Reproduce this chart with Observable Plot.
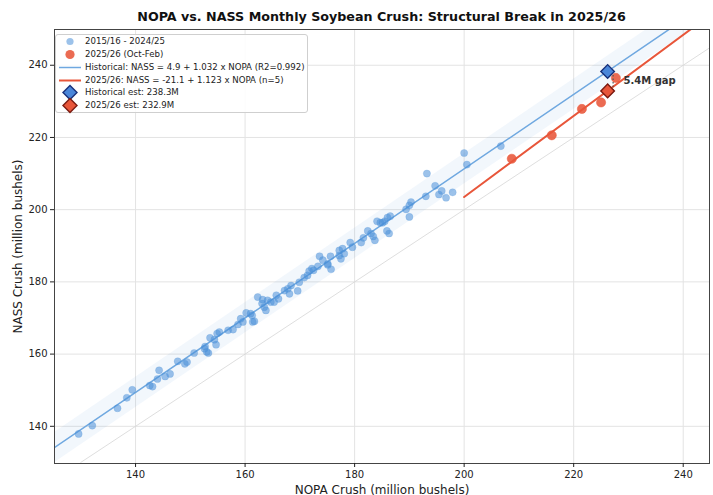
<!DOCTYPE html>
<html>
<head>
<meta charset="utf-8">
<script src="https://cdn.jsdelivr.net/npm/d3@7"></script>
<script src="https://cdn.jsdelivr.net/npm/@observablehq/plot@0.6"></script>
<style>
  html, body { margin: 0; padding: 0; background: #fff; }
  body { width: 713px; height: 495px; position: relative; overflow: hidden; font-family: "DejaVu Sans", sans-serif; }
  #title { position: absolute; left: 54px; width: 655px; top: 9px; text-align: center; font-weight: bold; font-size: 12.7px; color: #111; }
  #chart { position: absolute; left: 0; top: 24px; }
  #legend { position: absolute; left: 55px; top: 34px; width: 251px; height: 77px; border: 1px solid #cfcfcf; border-radius: 3px; background: rgba(255,255,255,0.85); font-size: 8.6px; color: #222; }
  .row { position: absolute; left: 0; height: 13px; line-height: 13px; white-space: nowrap; }
  .row svg { position: absolute; left: 2px; top: -2px; }
  .row span { position: absolute; left: 29px; }
</style>
</head>
<body>
<div id="title">NOPA vs. NASS Monthly Soybean Crush: Structural Break in 2025/26</div>
<div id="chart"></div>
<div id="legend"></div>
<script>
// Historical monthly points (2015/16 - 2024/25)
const histNOPA = [129.6,132.1,136.7,138.4,139.4,142.6,143.1,144.0,144.3,145.4,146.3,147.7,149.0,149.4,150.7,152.6,153.0,153.3,153.6,152.7,
  154.4,154.9,155.3,154.7,156.9,157.8,158.7,159.2,159.6,160.2,161.0,161.3,161.4,161.7,162.3,163.1,163.5,163.8,164.7,165.3,
  165.7,166.1,167.2,167.8,168.4,168.1,169.6,169.9,170.8,171.7,172.2,173.3,173.6,175.1,175.7,175.6,177.2,171.4,172.5,163.2,
  164.1,174.2,175.1,177.2,177.5,177.8,178.1,179.2,179.6,181.2,181.6,182.4,183.0,183.4,183.7,184.1,184.7,185.1,185.5,186.0,
  186.5,185.9,186.3,189.4,190.0,190.3,190.0,193.0,194.7,195.4,195.9,196.7,197.9,193.2,200.0,200.5,206.7];
const histNASS = [137.9,140.2,145.0,147.9,150.1,151.3,151.0,153.1,155.5,153.8,154.5,158.0,157.3,157.8,160.3,161.5,160.6,160.3,164.5,162.1,
  164.0,165.7,166.1,162.6,166.6,166.8,168.2,169.8,168.9,171.4,171.2,170.7,168.9,169.1,175.8,174.0,173.0,172.1,174.4,174.4,
  176.3,175.3,177.6,178.1,179.0,176.7,177.5,179.9,181.2,183.0,183.7,184.3,187.1,185.0,183.5,187.1,187.3,181.8,183.2,175.1,
  174.9,186.0,184.7,188.7,186.4,189.2,187.8,190.9,189.6,190.9,192.2,194.1,193.4,192.6,191.5,196.8,196.4,196.4,196.8,197.8,
  198.2,194.1,193.4,200.1,201.2,202.1,198.0,203.7,206.6,204.2,205.2,203.3,204.8,210.0,215.7,212.5,217.6];

// 2025/26 points (Oct-Feb)
const newNOPA = [208.7, 216.0, 221.5, 225.0, 227.7];
const newNASS = [214.1, 220.6, 227.9, 229.7, 236.5];

// Fits
const histFit = [4.9, 1.032];     // intercept, slope
const newFit = [-21.1, 1.123];
const bandHalf = 4.2;
const histRange = [125, 245];
const newRange = [200, 245];
const diagRange = [130, 250];

// Estimates
const estNOPA = 226.2;
const histEst = 238.3;
const newEst = 232.9;
const gapLabel = "5.4M gap";

const xTicks = [140, 160, 180, 200, 220, 240];
const yTicks = [140, 160, 180, 200, 220, 240];

const BLUE = "#4a90d9", LINEBLUE = "#6fa8e0", RED = "#e8563a";

const hist = histNOPA.map((x, i) => ({x, y: histNASS[i]}));
const recent = newNOPA.map((x, i) => ({x, y: newNASS[i]}));
const fitLine = (f, r) => r.map(x => ({x, y: f[0] + f[1] * x}));
const histLine = fitLine(histFit, histRange);
const newLine = fitLine(newFit, newRange);
const band = histLine.map(d => ({x: d.x, lo: d.y - bandHalf, hi: d.y + bandHalf}));
const diag = diagRange.map(v => ({x: v, y: v}));
const ests = [
  {x: estNOPA, y: histEst, fill: "#4a86d9", stroke: "#17307a"},
  {x: estNOPA, y: newEst, fill: RED, stroke: "#7a1a10"}
];

const chart = Plot.plot({
  width: 713, height: 471,
  marginTop: 5, marginLeft: 54, marginRight: 4, marginBottom: 32,
  style: {fontFamily: "DejaVu Sans, sans-serif", fontSize: "10px", color: "#222", background: "transparent"},
  x: {domain: [125.2, 244.8]},
  y: {domain: [129.7, 249.9]},
  marks: [
    Plot.gridX(xTicks, {stroke: "#e3e3e3", strokeOpacity: 1}),
    Plot.gridY(yTicks, {stroke: "#e3e3e3", strokeOpacity: 1}),
    Plot.areaY(band, {x: "x", y1: "lo", y2: "hi", fill: BLUE, fillOpacity: 0.075, clip: true}),
    Plot.line(diag, {x: "x", y: "y", stroke: "#d6d6d6", strokeWidth: 0.8, clip: true}),
    Plot.line(histLine, {x: "x", y: "y", stroke: LINEBLUE, strokeWidth: 1.5, clip: true}),
    Plot.line(newLine, {x: "x", y: "y", stroke: RED, strokeWidth: 2, clip: true}),
    Plot.dot(hist, {x: "x", y: "y", r: 3.6, fill: BLUE, fillOpacity: 0.55, stroke: BLUE, strokeOpacity: 0.25, strokeWidth: 0.8}),
    Plot.dot(recent, {x: "x", y: "y", r: 4.6, fill: RED, fillOpacity: 0.88, stroke: RED, strokeWidth: 0.5}),
    Plot.ruleX([estNOPA + 1], {y1: newEst, y2: histEst, stroke: "#555", strokeWidth: 1.2, strokeDasharray: "1.5,2"}),
    Plot.dot(ests, {x: "x", y: "y", symbol: "square", rotate: 45, r: 5.4, fill: "fill", stroke: "stroke", strokeWidth: 1.4}),
    Plot.text([gapLabel], {x: estNOPA + 2.9, y: (histEst + newEst) / 2 + 0.2, text: d => d, textAnchor: "start", fontWeight: "bold", fontSize: 10, fill: "#333"}),
    Plot.frame({stroke: "#444", strokeWidth: 1}),
    Plot.axisX(xTicks, {tickSize: 4, tickPadding: 3, label: "NOPA Crush (million bushels)", labelAnchor: "center", labelArrow: "none", labelOffset: 30, fontSize: 10}),
    Plot.axisY(yTicks, {tickSize: 4, tickPadding: 3, label: "NASS Crush (million bushels)", labelAnchor: "center", labelArrow: "none", labelOffset: 41, fontSize: 10})
  ]
});
document.getElementById("chart").appendChild(chart);
chart.querySelectorAll("g[aria-label='x-axis label'] text, g[aria-label='y-axis label'] text").forEach(t => t.setAttribute("font-size", "12"));

// Legend
const legendItems = [
  {type: "dot", color: BLUE, op: 0.55, r: 3.6, label: "2015/16 - 2024/25"},
  {type: "dot", color: RED, op: 0.88, r: 4.6, label: "2025/26 (Oct-Feb)"},
  {type: "line", color: LINEBLUE, w: 1.5, label: "Historical: NASS = 4.9 + 1.032 x NOPA (R2=0.992)"},
  {type: "line", color: RED, w: 2, label: "2025/26: NASS = -21.1 + 1.123 x NOPA (n=5)"},
  {type: "diamond", color: "#4a86d9", stroke: "#17307a", label: "Historical est: 238.3M"},
  {type: "diamond", color: RED, stroke: "#7a1a10", label: "2025/26 est: 232.9M"}
];
const rowTops = [0, 13, 26, 38.5, 51, 64];
const legend = document.getElementById("legend");
legendItems.forEach((it, i) => {
  const row = document.createElement("div");
  row.className = "row";
  row.style.top = rowTops[i] + "px";
  let icon = "";
  if (it.type === "dot") icon = `<circle cx="12" cy="8.5" r="${it.r}" fill="${it.color}" fill-opacity="${it.op}"/>`;
  else if (it.type === "line") icon = `<line x1="1" x2="23" y1="8.5" y2="8.5" stroke="${it.color}" stroke-width="${it.w}"/>`;
  else icon = `<path d="M12 1.5 L19 8.5 L12 15.5 L5 8.5 Z" fill="${it.color}" stroke="${it.stroke}" stroke-width="1.4"/>`;
  row.innerHTML = `<svg width="26" height="17">${icon}</svg><span>${it.label}</span>`;
  legend.appendChild(row);
});
</script>
</body>
</html>
